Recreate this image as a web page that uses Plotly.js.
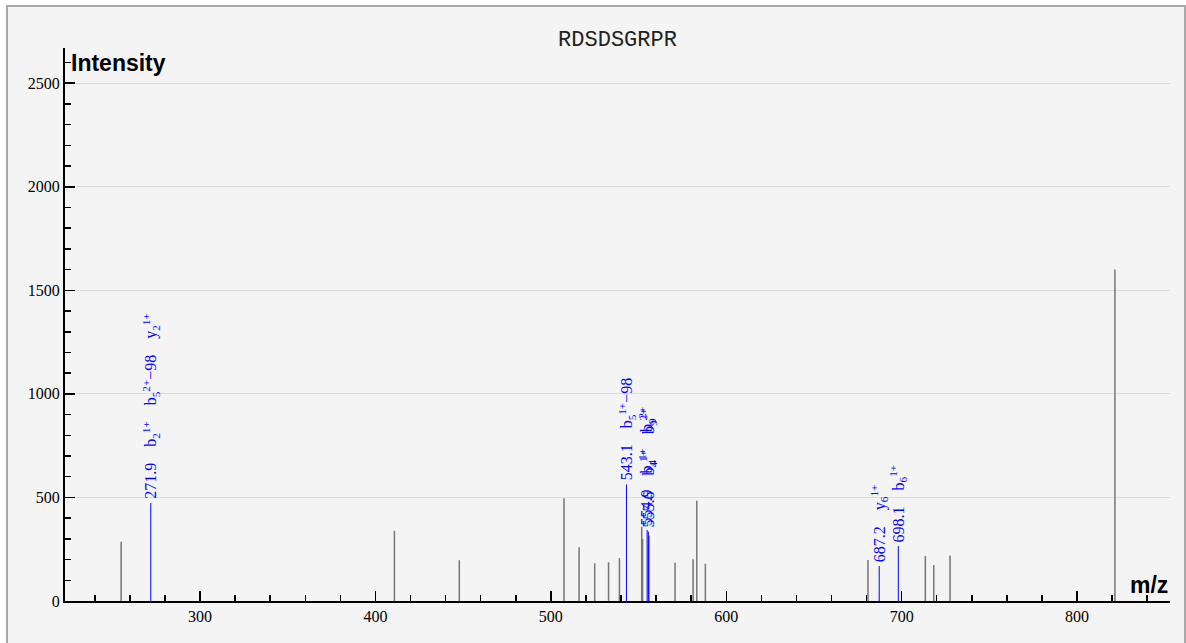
<!DOCTYPE html>
<html>
<head>
<meta charset="utf-8">
<script src="https://cdn.plot.ly/plotly-3.0.1.min.js"></script>
<style>
  html, body { margin: 0; padding: 0; background: #ffffff; }
  #frame { position: absolute; left: 6px; top: 5px; width: 1176px; height: 640px; border: 2px solid #a9a9a9; overflow: hidden; }
  #chart { width: 1176px; height: 636px; }
</style>
</head>
<body>
<div id="frame"><div id="chart"></div></div>
<script>
// ---- data ----
const peptide = "RDSDSGRPR";

// unannotated peaks (m/z, intensity)
const grayMz  = [255.0, 410.8, 447.8, 507.5, 516.1, 525.0, 532.9, 539.1, 551.8, 552.3, 556.0, 570.8, 581.1, 583.2, 588.1, 680.8, 713.5, 718.3, 727.6, 821.6];
const grayInt = [286,   339,   197,   496,   260,   182,   187,   207,   359,   300,   315,   185,   201,   484,   180,   198,   217,   174,   220,   1600];

// annotated (matched) peaks
const ionMz  = [271.9, 543.1, 554.9, 555.6, 687.2, 698.1];
const ionInt = [473,   563,   343,   335,   169,   265];
const ionNames = [
  ["b<sub>2</sub><sup>1+</sup>", "b<sub>5</sub><sup>2+</sup>\u221298", "y<sub>2</sub><sup>1+</sup>"],
  ["b<sub>5</sub><sup>1+</sup>\u221298"],
  ["b<sub>4</sub><sup>1+</sup>", "b<sub>9</sub><sup>2+</sup>"],
  ["b<sub>4</sub><sup>1+</sup>", "b<sub>9</sub><sup>2+</sup>"],
  ["y<sub>6</sub><sup>1+</sup>"],
  ["b<sub>6</sub><sup>1+</sup>"]
];

const xTickVals = [300, 400, 500, 600, 700, 800];
const yTickVals = [0, 500, 1000, 1500, 2000, 2500];
const xAxisLabel = "m/z";
const yAxisLabel = "Intensity";

// ---- build stick traces ----
function sticks(mz, inten) {
  const xs = [], ys = [];
  for (let i = 0; i < mz.length; i++) {
    xs.push(mz[i], mz[i], null);
    ys.push(0, inten[i], null);
  }
  return { x: xs, y: ys };
}
const g = sticks(grayMz, grayInt);
const b = sticks(ionMz, ionInt);

const traces = [
  { type: 'scatter', mode: 'lines', x: g.x, y: g.y, line: { color: '#767676', width: 1.5 }, hoverinfo: 'skip', showlegend: false },
  { type: 'scatter', mode: 'lines', x: b.x, y: b.y, line: { color: '#0000ff', width: 1 }, hoverinfo: 'skip', showlegend: false }
];

const gap = '\u00a0\u00a0\u00a0\u00a0';
const annotations = ionMz.map((m, i) => ({
  x: m, y: ionInt[i], xref: 'x', yref: 'y',
  text: [m.toFixed(1)].concat(ionNames[i]).join(gap),
  textangle: -90, showarrow: false,
  xanchor: 'center', yanchor: 'bottom', yshift: 2,
  font: { family: 'Liberation Serif, Times New Roman, serif', size: 16, color: '#0000ff' }
}));

annotations.push({
  xref: 'paper', yref: 'y', x: 0, y: 2600, xanchor: 'left', yanchor: 'middle', xshift: 4,
  text: '<b>' + yAxisLabel + '</b>', showarrow: false,
  font: { family: 'Liberation Sans, Arial, sans-serif', size: 23, color: '#000' }
});
annotations.push({
  xref: 'paper', yref: 'y', x: 1, y: 0, xanchor: 'right', yanchor: 'bottom', yshift: 1,
  text: '<b>' + xAxisLabel + '</b>', showarrow: false,
  font: { family: 'Liberation Sans, Arial, sans-serif', size: 23, color: '#000' }
});

const tickFont = { family: 'Liberation Serif, Times New Roman, serif', size: 16, color: '#000' };

const layout = {
  width: 1176, height: 636,
  margin: { l: 57, r: 14, t: 41, b: 42 },
  paper_bgcolor: '#f4f4f4', plot_bgcolor: '#f4f4f4',
  title: { text: peptide, x: 0.5, xref: 'paper', y: 0.951, yref: 'container', yanchor: 'middle',
           font: { family: 'Courier New, Courier, Liberation Mono, monospace', size: 22, color: '#222' } },
  xaxis: {
    range: [223, 853], tickmode: 'array', tickvals: xTickVals, ticktext: xTickVals.map(String),
    ticks: 'inside', ticklen: 10, tickwidth: 1.5, tickcolor: '#000',
    showline: true, linecolor: '#000', linewidth: 2, showgrid: false, zeroline: false,
    tickfont: tickFont,
    minor: { tickmode: 'linear', tick0: 0, dtick: 20, ticks: 'inside', ticklen: 6, tickwidth: 1.5, tickcolor: '#000', showgrid: false }
  },
  yaxis: {
    range: [0, 2670], tickmode: 'array', tickvals: yTickVals, ticktext: yTickVals.map(String),
    ticks: 'inside', ticklen: 10, tickwidth: 1.5, tickcolor: '#000',
    showline: true, linecolor: '#000', linewidth: 2, showgrid: true, gridcolor: '#dcdcdc', gridwidth: 1, zeroline: false,
    tickfont: tickFont,
    minor: { tickmode: 'linear', tick0: 0, dtick: 100, ticks: 'inside', ticklen: 6, tickwidth: 1.5, tickcolor: '#000', showgrid: false }
  },
  annotations: annotations,
  showlegend: false
};

Plotly.newPlot('chart', traces, layout, { displayModeBar: false, staticPlot: true });
</script>
</body>
</html>
